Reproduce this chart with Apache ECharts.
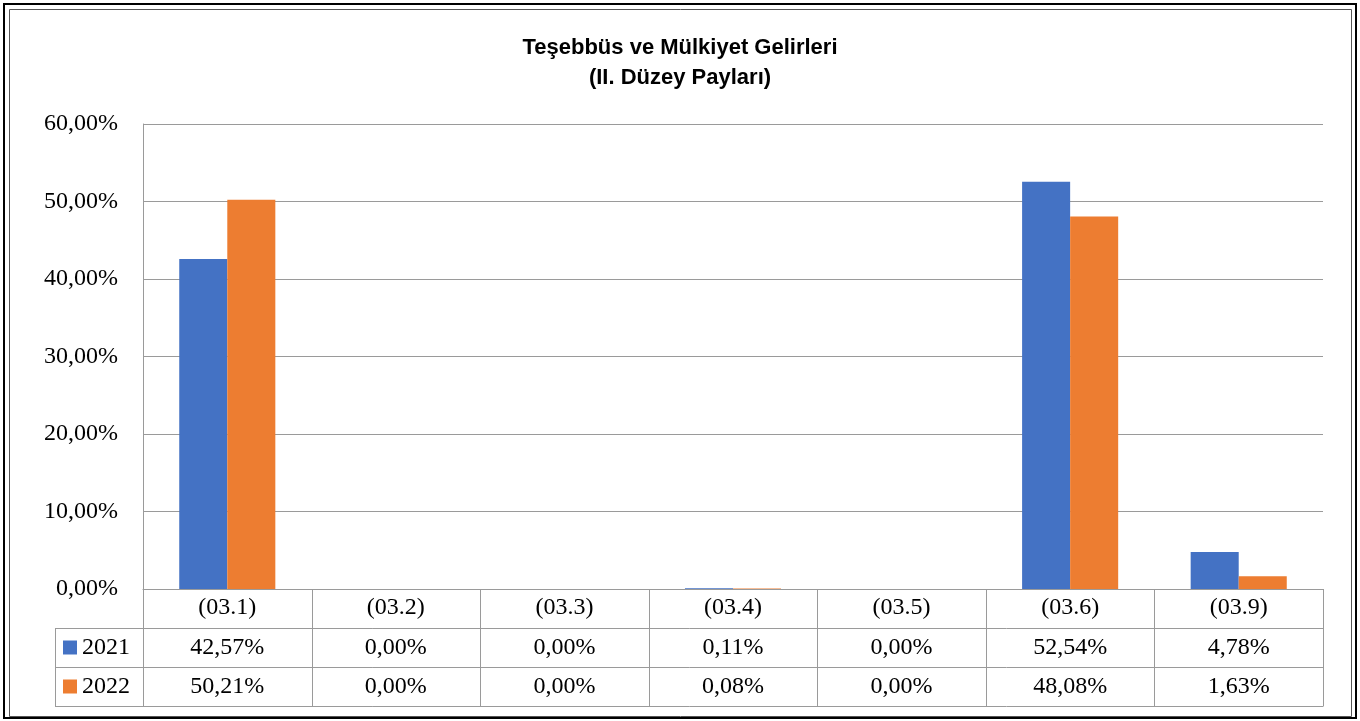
<!DOCTYPE html>
<html>
<head>
<meta charset="utf-8">
<script src="https://cdn.jsdelivr.net/npm/echarts@6/dist/echarts.min.js"></script>
<style>
  html, body { margin: 0; padding: 0; background: #fff; }
  #main { width: 1360px; height: 721px; }
</style>
</head>
<body>
<div id="main"></div>
<script>
// kategoriler ve yıllara göre paylar (%)
let categories = ['(03.1)', '(03.2)', '(03.3)', '(03.4)', '(03.5)', '(03.6)', '(03.9)'];
let seriesNames = ['2021', '2022'];
let values2021 = [42.57, 0, 0, 0.11, 0, 52.54, 4.78];
let values2022 = [50.21, 0, 0, 0.08, 0, 48.08, 1.63];
let yTicks = [0, 10, 20, 30, 40, 50, 60];

let colors = ['#4472C4', '#ED7D31'];
let serif = '"Liberation Serif", "Times New Roman", serif';
let textSize = 24;

function fmt(v) {
  return v.toFixed(2).replace('.', ',') + '%';
}

// çizim alanı (piksel)
let plotLeft = 143, plotRight = 1323, plotTop = 124, plotBottom = 589;
let rowH = 39;
let legendLeft = 55;

let myChart = echarts.init(document.getElementById('main'));

let option = {
  animation: false,
  title: {
    text: 'Teşebbüs ve Mülkiyet Gelirleri\n(II. Düzey Payları)',
    left: 'center',
    top: 28,
    textStyle: {
      fontFamily: '"Liberation Sans", Arial, sans-serif',
      fontWeight: 'bold',
      fontSize: 22,
      lineHeight: 30,
      color: '#000'
    }
  },
  grid: {
    left: plotLeft,
    right: 1360 - plotRight,
    top: plotTop,
    bottom: 721 - plotBottom,
    containLabel: false
  },
  xAxis: {
    type: 'category',
    data: categories,
    axisLine: { show: true, lineStyle: { color: '#9a9a9a', width: 1 } },
    axisTick: { show: false },
    axisLabel: {
      margin: 7,
      fontFamily: serif,
      fontSize: textSize,
      lineHeight: 24,
      color: '#000'
    }
  },
  yAxis: {
    type: 'value',
    min: yTicks[0],
    max: yTicks[yTicks.length - 1],
    interval: 10,
    axisLine: { show: true, lineStyle: { color: '#9a9a9a', width: 1 } },
    axisTick: { show: false },
    splitLine: { lineStyle: { color: '#9a9a9a', width: 1 } },
    axisLabel: {
      margin: 25,
      fontFamily: serif,
      fontSize: textSize,
      color: '#000',
      formatter: function (v) { return fmt(v); }
    }
  },
  series: [
    {
      name: seriesNames[0],
      type: 'bar',
      data: values2021,
      barGap: '0%',
      barCategoryGap: '43%',
      itemStyle: { color: colors[0] }
    },
    {
      name: seriesNames[1],
      type: 'bar',
      data: values2022,
      barGap: '0%',
      barCategoryGap: '43%',
      itemStyle: { color: colors[1] }
    }
  ]
};

myChart.setOption(option);

// veri tablosu ve çerçeve
let graphics = [];
let lineStyle = { stroke: '#9a9a9a', lineWidth: 1 };
let colW = (plotRight - plotLeft) / categories.length;
let tableBottom = plotBottom + rowH * 3;

// dış çerçeve
graphics.push({ type: 'rect', shape: { x: 4, y: 4, width: 1352, height: 714 },
  style: { fill: null, stroke: '#000', lineWidth: 2 }, silent: true });
graphics.push({ type: 'rect', shape: { x: 9.5, y: 9.5, width: 1342, height: 707 },
  style: { fill: null, stroke: '#555', lineWidth: 1 }, silent: true });

// dikey çizgiler
for (let i = 0; i <= categories.length; i++) {
  let x = Math.round(plotLeft + colW * i) + 0.5;
  graphics.push({ type: 'line', shape: { x1: x, y1: plotBottom, x2: x, y2: tableBottom }, style: lineStyle, silent: true });
}
graphics.push({ type: 'line', shape: { x1: legendLeft + 0.5, y1: plotBottom + rowH, x2: legendLeft + 0.5, y2: tableBottom }, style: lineStyle, silent: true });
// yatay çizgiler
for (let r = 1; r <= 3; r++) {
  let y = plotBottom + rowH * r + 0.5;
  graphics.push({ type: 'line', shape: { x1: legendLeft, y1: y, x2: plotRight + 0.5, y2: y }, style: lineStyle, silent: true });
}

let rows = [values2021, values2022];
rows.forEach(function (vals, r) {
  let cy = plotBottom + rowH * (r + 1) + rowH / 2;
  graphics.push({ type: 'rect', shape: { x: 63, y: cy - 7, width: 14, height: 14 },
    style: { fill: colors[r] }, silent: true });
  graphics.push({ type: 'text', x: 82, y: cy,
    style: { text: seriesNames[r], font: textSize + 'px ' + serif, fill: '#000', verticalAlign: 'middle' }, silent: true });
  vals.forEach(function (v, i) {
    graphics.push({ type: 'text', x: plotLeft + colW * (i + 0.5), y: cy,
      style: { text: fmt(v), font: textSize + 'px ' + serif, fill: '#000', align: 'center', verticalAlign: 'middle' }, silent: true });
  });
});

myChart.setOption({ graphic: graphics });
</script>
</body>
</html>
